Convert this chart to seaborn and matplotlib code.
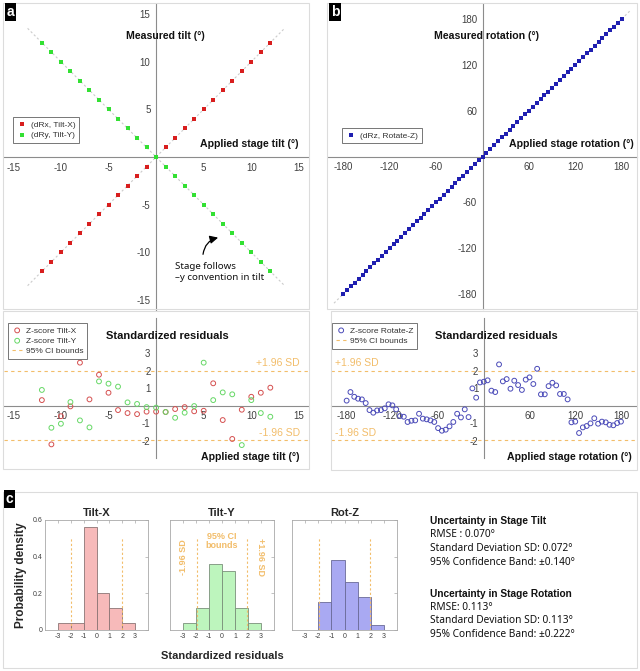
import matplotlib.pyplot as plt
import matplotlib.patches as mpatches
import seaborn as sns

# ---------------------------------------------------------------------------
# Data
# ---------------------------------------------------------------------------
tilt_applied = [-12, -11, -10, -9, -8, -7, -6, -5, -4, -3, -2, -1, 0,
                1, 2, 3, 4, 5, 6, 7, 8, 9, 10, 11, 12]
tilt_x_measured = [-12, -11, -10, -9, -8, -7, -6, -5, -4, -3, -2, -1, 0,
                   1, 2, 3, 4, 5, 6, 7, 8, 9, 10, 11, 12]
tilt_y_measured = [12, 11, 10, 9, 8, 7, 6, 5, 4, 3, 2, 1, 0,
                   -1, -2, -3, -4, -5, -6, -7, -8, -9, -10, -11, -12]

rot_applied = list(range(-180, 181, 5))
rot_measured = [-180, -175, -170, -165, -160, -155, -150, -145, -140, -135, -130, -125,
                -120, -115, -110, -105, -100, -95, -90, -85, -80, -75, -70, -65,
                -60, -55, -50, -45, -40, -35, -30, -25, -20, -15, -10, -5, 0,
                5, 10, 15, 20, 25, 30, 35, 40, 45, 50, 55, 60, 65, 70, 75, 80,
                85, 90, 95, 100, 105, 110, 115, 120, 125, 130, 135, 140, 145,
                150, 155, 160, 165, 170, 175, 180]

# standardized residuals (z-scores)
z_tilt_x = [0.32, -2.21, -0.60, -0.04, 2.46, 0.36, 1.77, 0.74, -0.25, -0.42, -0.48, -0.34, -0.34,
            -0.36, -0.19, -0.08, -0.32, -0.29, 1.28, -0.82, -1.90, -0.23, 0.51, 0.74, 1.03]
z_tilt_y = [0.90, -1.26, -1.03, 0.21, -0.84, -1.24, 1.39, 1.26, 1.09, 0.19, 0.10, -0.08, -0.11,
            -0.36, -0.69, -0.40, -0.02, 2.46, 0.32, 0.76, 0.65, -2.25, 0.32, -0.42, -0.63]
z_rot = [0.29, 0.78, 0.51, 0.40, 0.36, 0.15, -0.25, -0.40, -0.27, -0.25, -0.15, 0.08,
         0.02, -0.21, -0.59, -0.63, -0.93, -0.86, -0.84, -0.46, -0.74, -0.78, -0.84, -0.93,
         -1.28, -1.43, -1.37, -1.18, -0.93, -0.46, -0.67, -0.21, -0.65, 0.99, 0.46, 1.33,
         1.37, 1.45, 0.86, 0.78, 2.36, 1.39, 1.52, 0.97, 1.43, 1.18, 0.90, 1.49,
         1.62, 1.24, 2.11, 0.65, 0.65, 1.12, 1.31, 1.16, 0.67, 0.67, 0.36, -0.95,
         -0.91, -1.56, -1.24, -1.16, -1.01, -0.72, -1.03, -0.91, -0.95, -1.09, -1.12, -0.99, -0.91]

ci_bound = 1.96
hist_bins = [-3, -2, -1, 0, 1, 2, 3]

tilt_ticks = [-15, -10, -5, 5, 10, 15]
rot_ticks = [-180, -120, -60, 60, 120, 180]
z_ticks = [-2, -1, 1, 2, 3]

summary_lines = [
    ("Uncertainty in Stage Tilt", "bold"),
    ("RMSE : 0.070°", "normal"),
    ("Standard Deviation SD: 0.072°", "normal"),
    ("95% Confidence Band: ±0.140°", "normal"),
    (None, None),
    ("Uncertainty in Stage Rotation", "bold"),
    ("RMSE: 0.113°", "normal"),
    ("Standard Deviation SD: 0.113°", "normal"),
    ("95% Confidence Band: ±0.222°", "normal"),
]

# ---------------------------------------------------------------------------
# Styling
# ---------------------------------------------------------------------------
sns.set_theme(style="white")
plt.rcParams["font.family"] = ["Liberation Sans", "DejaVu Sans"]
plt.rcParams["axes.unicode_minus"] = False
BOLD_FONT = ["Liberation Sans", "DejaVu Sans"]
TEXT_FONT = ["Noto Sans", "DejaVu Sans"]

RED = "#d81e1e"
GREEN = "#33e033"
BLUE = "#1f1fb0"
ORANGE = "#f2bd6a"
AXIS_GREY = "#8c8c8c"

W, H = 640, 671
fig = plt.figure(figsize=(W / 100, H / 100), dpi=100)


def box(l, t, r, b):
    # pixel box (top-left origin) -> figure rect
    return [l / W, 1 - b / H, (r - l) / W, (b - t) / H]


def origin_axes(ax, xlim, ylim, xticks, yticks):
    ax.set_facecolor("none")
    ax.set_xlim(xlim)
    ax.set_ylim(ylim)
    for s in ["top", "right"]:
        ax.spines[s].set_visible(False)
    for s in ["left", "bottom"]:
        ax.spines[s].set_position(("data", 0))
        ax.spines[s].set_color(AXIS_GREY)
        ax.spines[s].set_linewidth(0.8)
    ax.set_xticks(xticks)
    ax.set_yticks(yticks)
    ax.tick_params(direction="inout", length=4, width=0.6, color=AXIS_GREY,
                   labelsize=7, labelcolor="#404040", pad=2)
    ax.set_xlabel("")
    ax.set_ylabel("")


def bold_label(ax, x, y, s, ha="center", size=7.6):
    ax.text(x, y, s, ha=ha, va="center", fontsize=size, fontweight="bold",
            family=BOLD_FONT, color="#111111", zorder=5)


def frame(l, t, r, b):
    fig.add_artist(mpatches.Rectangle((l / W, 1 - b / H), (r - l) / W, (b - t) / H,
                                      transform=fig.transFigure, fill=False,
                                      edgecolor="#dcdcdc", linewidth=0.8))


def panel_letter(x, y, s):
    fig.text(x / W, 1 - y / H, s, ha="center", va="center", color="white",
             fontsize=10, fontweight="bold", family=BOLD_FONT,
             bbox=dict(facecolor="black", edgecolor="none", boxstyle="square,pad=0.15"))


def small_legend(ax, l, t):
    leg = ax.legend(loc="upper left", bbox_to_anchor=(l / W, 1 - t / H),
                    bbox_transform=fig.transFigure, fontsize=6, frameon=True,
                    fancybox=False, edgecolor="#606060", framealpha=1,
                    borderpad=0.45, handletextpad=0.4, labelspacing=0.3,
                    handlelength=1.3, borderaxespad=0)
    leg.get_frame().set_linewidth(0.6)
    for t_ in leg.get_texts():
        t_.set_color("#333333")


for rect in [(3, 3, 309, 309), (3, 311, 309, 469), (327, 3, 637, 309),
             (331, 311, 637, 470), (3, 492, 637, 668)]:
    frame(*rect)

# ---------------------------------------------------------------------------
# Panel a (top): measured vs applied tilt
# ---------------------------------------------------------------------------
ax = fig.add_axes(box(3.8, 4.5, 308.4, 309.5))
ax.plot([-13.5, 13.5], [-13.5, 13.5], color="#cccccc", ls=(0, (2, 2)), lw=0.8, zorder=1)
ax.plot([-13.5, 13.5], [13.5, -13.5], color="#cccccc", ls=(0, (2, 2)), lw=0.8, zorder=1)
sns.scatterplot(x=tilt_applied, y=tilt_x_measured, marker="s", s=11, color=RED,
                linewidth=0, label="(dRx, Tilt-X)", ax=ax, zorder=3)
sns.scatterplot(x=tilt_applied, y=tilt_y_measured, marker="s", s=11, color=GREEN,
                linewidth=0, label="(dRy, Tilt-Y)", ax=ax, zorder=3)
origin_axes(ax, (-16, 16), (-16, 16), tilt_ticks, tilt_ticks)
small_legend(ax, 13, 117)
bold_label(ax, 1.0, 12.7, "Measured tilt (°)")
bold_label(ax, 15.0, 1.4, "Applied stage tilt (°)", ha="right")
ax.text(2.0, -11.0, "Stage follows\n\u2013y convention in tilt", ha="left", va="top",
        fontsize=7, family=TEXT_FONT, color="#111111", linespacing=1.25)
ax.annotate("", xy=(6.8, -8.4), xytext=(4.9, -10.5),
            arrowprops=dict(arrowstyle="-|>,head_length=0.4,head_width=0.2", color="black",
                            lw=0.9, connectionstyle="arc3,rad=-0.4"))

# ---------------------------------------------------------------------------
# Panel b (top): measured vs applied rotation
# ---------------------------------------------------------------------------
ax = fig.add_axes(box(327.8, 3.7, 637.2, 309.3))
ax.plot([-192, 192], [-192, 192], color="#cccccc", ls=(0, (2, 2)), lw=0.8, zorder=1)
sns.scatterplot(x=rot_applied, y=rot_measured, marker="s", s=7, color=BLUE,
                linewidth=0, label="(dRz, Rotate-Z)", ax=ax, zorder=3)
origin_axes(ax, (-200, 200), (-200, 200), rot_ticks, rot_ticks)
small_legend(ax, 342, 128)
bold_label(ax, 5, 158, "Measured rotation (°)")
bold_label(ax, 195, 16, "Applied stage rotation (°)", ha="right")

# ---------------------------------------------------------------------------
# Panel a (bottom): tilt residuals
# ---------------------------------------------------------------------------
ax = fig.add_axes(box(3.8, 318.2, 308.4, 458.2))
sns.scatterplot(x=tilt_applied, y=z_tilt_x, marker="o", s=12, facecolor="none",
                edgecolor="#d55050", linewidth=0.7, label="Z-score Tilt-X", ax=ax, zorder=3)
sns.scatterplot(x=tilt_applied, y=z_tilt_y, marker="o", s=12, facecolor="none",
                edgecolor="#66d866", linewidth=0.7, label="Z-score Tilt-Y", ax=ax, zorder=3)
ax.axhline(ci_bound, color=ORANGE, ls=(0, (3, 3)), lw=0.8, zorder=1, label="95% CI bounds")
ax.axhline(-ci_bound, color=ORANGE, ls=(0, (3, 3)), lw=0.8, zorder=1)
origin_axes(ax, (-16, 16), (-3, 5), tilt_ticks, z_ticks)
small_legend(ax, 8, 323)
bold_label(ax, 1.15, 3.98, "Standardized residuals", size=8)
bold_label(ax, 15.1, -2.91, "Applied stage tilt (°)", ha="right")
ax.text(15.1, 2.44, "+1.96 SD", ha="right", va="center", fontsize=7.5, color=ORANGE)
ax.text(15.1, -1.56, "-1.96 SD", ha="right", va="center", fontsize=7.5, color=ORANGE)

# ---------------------------------------------------------------------------
# Panel b (bottom): rotation residuals
# ---------------------------------------------------------------------------
ax = fig.add_axes(box(331.4, 318.2, 636.2, 458.2))
sns.scatterplot(x=rot_applied, y=z_rot, marker="o", s=12, facecolor="none",
                edgecolor="#4a4ab8", linewidth=0.7, label="Z-score Rotate-Z", ax=ax, zorder=3)
ax.axhline(ci_bound, color=ORANGE, ls=(0, (3, 3)), lw=0.8, zorder=1, label="95% CI bounds")
ax.axhline(-ci_bound, color=ORANGE, ls=(0, (3, 3)), lw=0.8, zorder=1)
origin_axes(ax, (-200, 200), (-3, 5), rot_ticks, z_ticks)
small_legend(ax, 332, 323)
bold_label(ax, 16, 3.98, "Standardized residuals", size=8)
bold_label(ax, 194, -2.91, "Applied stage rotation (°)", ha="right")
ax.text(-195, 2.44, "+1.96 SD", ha="left", va="center", fontsize=7.5, color=ORANGE)
ax.text(-195, -1.56, "-1.96 SD", ha="left", va="center", fontsize=7.5, color=ORANGE)

# ---------------------------------------------------------------------------
# Panel c: histograms of the residuals
# ---------------------------------------------------------------------------
hist_specs = [
    ("Tilt-X", z_tilt_x, "#f7baba", "#8c7474", 45, 148),
    ("Tilt-Y", z_tilt_y, "#bdf5bd", "#7a907a", 170, 274),
    ("Rot-Z", z_rot, "#a9a9f2", "#6a6a98", 292, 397),
]
for i, (title, z, fc, ec, l, r) in enumerate(hist_specs):
    ax = fig.add_axes(box(l, 520, r, 630))
    sns.histplot(x=z, bins=hist_bins, stat="density", color=fc, edgecolor=ec,
                 linewidth=0.6, alpha=1, ax=ax, zorder=2)
    for x_ in (-ci_bound, ci_bound):
        ax.plot([x_, x_], [0, 0.5], color=ORANGE, ls=(0, (2, 2)), lw=0.8, zorder=3)
    ax.set_xlim(-4, 4)
    ax.set_ylim(0, 0.6)
    ax.set_xticks([-3, -2, -1, 0, 1, 2, 3])
    ax.set_yticks([0, 0.2, 0.4, 0.6])
    ax.set_facecolor("white")
    for s in ax.spines.values():
        s.set_visible(True)
        s.set_color("#a8a8a8")
        s.set_linewidth(0.6)
    ax.tick_params(direction="in", length=2, width=0.5, color="#a8a8a8",
                   top=True, right=True, labelsize=5, labelcolor="#404040", pad=2)
    if i == 0:
        ax.set_yticklabels(["0", "0.2", "0.4", "0.6"])
        ax.set_ylabel("Probability density", fontsize=8.5, fontweight="bold",
                      family=BOLD_FONT, labelpad=4)
    else:
        ax.set_yticklabels([])
        ax.set_ylabel("")
    ax.set_xlabel("Standardized residuals" if i == 1 else "", fontsize=8,
                  fontweight="bold", family=BOLD_FONT, labelpad=8)
    ax.set_title(title, fontsize=8, fontweight="bold", family=BOLD_FONT, pad=3)
    if i == 1:
        ax.text(0, 0.485, "95% CI\nbounds", ha="center", va="center", fontsize=6.5,
                fontweight="bold", family=BOLD_FONT, color=ORANGE, linespacing=1.0)
        ax.text(-3.0, 0.40, "-1.96 SD", ha="center", va="center", rotation=90,
                fontsize=6.5, fontweight="bold", family=BOLD_FONT, color=ORANGE)
        ax.text(3.0, 0.40, "+1.96 SD", ha="center", va="center", rotation=-90,
                fontsize=6.5, fontweight="bold", family=BOLD_FONT, color=ORANGE)

# summary text on the right of panel c
y_px = 521
for line, weight in summary_lines:
    if line is not None:
        fig.text(430 / W, 1 - y_px / H, line, ha="left", va="center", fontsize=7.3,
                 fontweight=weight, family=BOLD_FONT if weight == "bold" else TEXT_FONT,
                 color="#111111")
    y_px += 13.7 if line is not None else 17.7

panel_letter(10.5, 12, "a")
panel_letter(335, 12, "b")
panel_letter(9.5, 499, "c")

fig.savefig("out.png", dpi=100)
